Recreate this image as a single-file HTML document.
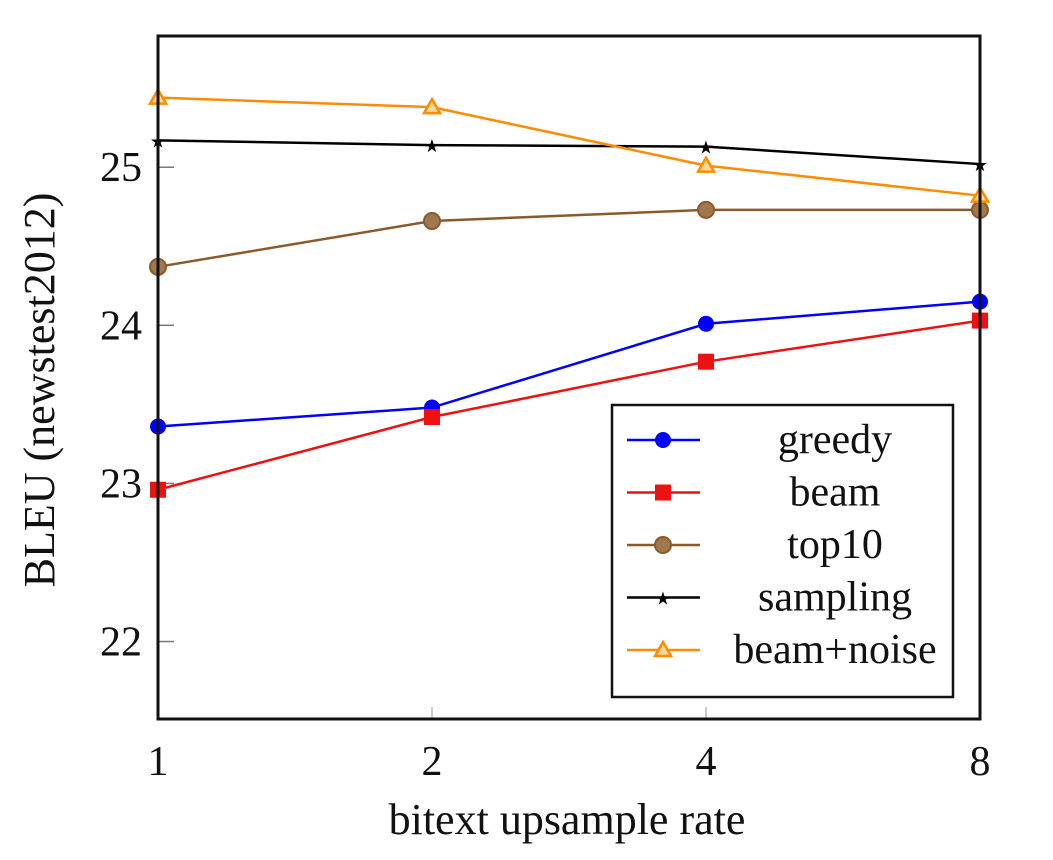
<!DOCTYPE html>
<html><head><meta charset="utf-8"><style>
html,body{margin:0;padding:0;background:#fff;}
svg{display:block;font-family:"Liberation Serif",serif;}
</style></head><body>
<svg id="chart" width="1053" height="860"></svg>
<script>
const xCats=[1,2,4,8];
const yTicks=[22,23,24,25];
const seriesNames=["greedy","beam","top10","sampling","beam+noise"];
const greedy=[23.36,23.48,24.01,24.15];
const beam=[22.96,23.42,23.77,24.03];
const top10=[24.37,24.66,24.73,24.73];
const sampling=[25.17,25.14,25.13,25.02];
const beamNoise=[25.44,25.38,25.01,24.82];
const seriesVals=[greedy,beam,top10,sampling,beamNoise];
const colors=["#0000ff","#ee1111","#8b5a2b","#000000","#ff8c00"];
const markers=["circle","square","circle2","star","triangle"];

const L=158,R=980,T=36,B=719,yMin=21.51,yMax=25.83;
const NS="http://www.w3.org/2000/svg";
const svg=document.getElementById('chart');
function xs(v){return L+(Math.log2(v)-Math.log2(1))/(Math.log2(8))*(R-L);}
function ys(v){return B-(v-yMin)/(yMax-yMin)*(B-T);}
function mk(tag,a,parent){const e=document.createElementNS(NS,tag);for(const k in a)e.setAttribute(k,a[k]);(parent||svg).appendChild(e);return e;}
function marker(type,x,y,c,g){
  let e;
  if(type==="circle"){e=mk('circle',{cx:x,cy:y,r:8,fill:c},g);}
  else if(type==="circle2"){e=mk('circle',{cx:x,cy:y,r:8,fill:"#a0784e",stroke:c,'stroke-width':2},g);}
  else if(type==="square"){e=mk('rect',{x:x-8,y:y-8,width:16,height:16,fill:c},g);}
  else if(type==="star"){e=mk('text',{x:x,y:y+7,'text-anchor':'middle','font-size':18,fill:c,'font-family':'DejaVu Sans,sans-serif'},g);e.textContent='★';}
  else {e=mk('polygon',{points:`${x},${y-8} ${x-8},${y+6} ${x+8},${y+6}`,fill:"#ffd79a",stroke:c,'stroke-width':2.5},g);}
  
  
}
yTicks.forEach(t=>{
  const y=ys(t);
  const l=mk('line',{x1:L,y1:y,x2:L+16,y2:y,stroke:'#777','stroke-width':1.5});
  
  
  const tx=mk('text',{x:L-16,y:y+14,'text-anchor':'end','font-size':42,fill:'#111'});
  tx.textContent=t;
  
  
});
xCats.forEach(c=>{
  const x=xs(c);
  const l=mk('line',{x1:x,y1:B,x2:x,y2:B-12,stroke:'#999','stroke-width':1});
  
  
  const tx=mk('text',{x:x,y:B+56,'text-anchor':'middle','font-size':42,fill:'#111'});
  tx.textContent=c;
  
  
});
seriesVals.forEach((vals,i)=>{
  const g=mk('g',{});
  
  
  const p=mk('polyline',{points:vals.map((v,j)=>xs(xCats[j])+','+ys(v)).join(' '),fill:'none',stroke:colors[i],'stroke-width':2.5},g);
  
  
  vals.forEach((v,j)=>marker(markers[i],xs(xCats[j]),ys(v),colors[i],g));
});
const f=mk('rect',{x:L,y:T,width:R-L,height:B-T,fill:'none',stroke:'#111','stroke-width':3});


const xl=mk('text',{x:567,y:834,'text-anchor':'middle','font-size':44,fill:'#111'});
xl.textContent='bitext upsample rate';


const yl=mk('text',{x:0,y:0,'text-anchor':'middle','font-size':44,fill:'#111',transform:'translate(54,390) rotate(-90)'});
yl.textContent='BLEU (newstest2012)';


const lg=mk('g',{});


mk('rect',{x:612,y:405,width:341,height:292,fill:'#fff',stroke:'#111','stroke-width':2.5},lg);
seriesNames.forEach((n,i)=>{
  const y=440+i*52.5;
  const e=mk('g',{},lg);
  
  
  mk('line',{x1:627,y1:y,x2:700,y2:y,stroke:colors[i],'stroke-width':2.5},e);
  marker(markers[i],663,y,colors[i],e);
  const t=mk('text',{x:835,y:y+13,'text-anchor':'middle','font-size':42,fill:'#111'},e);
  t.textContent=n;
});
</script>
</body></html>
